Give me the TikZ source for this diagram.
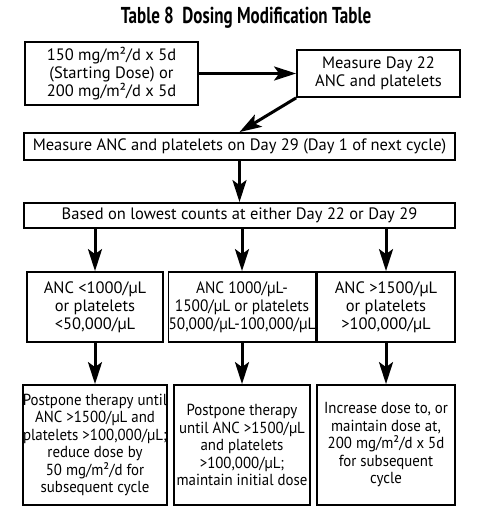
\documentclass[tikz,border=0pt]{standalone}
\usepackage{fontspec}
\setmainfont{PT Sans}
\newfontfamily\titlefont[FakeStretch=0.74]{PT Sans}
\newfontfamily\narrowfont[FakeStretch=0.93]{PT Sans}
\usetikzlibrary{arrows.meta}
\begin{document}
\begin{tikzpicture}[x=1pt,y=-1pt,
  box/.style={draw,line width=1.8pt,inner sep=0pt,align=center,
    font=\fontsize{16.5}{18}\selectfont},
  lowbox/.style={box,minimum height=120pt,font=\narrowfont\fontsize{16}{17.5}\selectfont},
  arr/.style={line width=3pt,-{Stealth[length=22pt,width=14pt,inset=5pt]}}]
\useasboundingbox (0,0) rectangle (480,513);
\node[font=\titlefont\bfseries\fontsize{23}{24}\selectfont] (title) at (246,18) {Table 8\ \ Dosing Modification Table};
\node[box,minimum width=173pt,minimum height=63pt] (b1) at (111.5,73.5)
  {150 mg/m²/d x 5d\\(Starting Dose) or\\200 mg/m²/d x 5d};
\node[box,minimum width=163pt,minimum height=47pt] (b2) at (378.5,73.5)
  {Measure Day 22\\ANC and platelets};
\node[box,minimum width=431pt,minimum height=27pt] (b3) at (239.5,146.5)
  {Measure ANC and platelets on Day 29 (Day 1 of next cycle)};
\node[box,minimum width=431pt,minimum height=25pt] (b4) at (239.5,215.5)
  {Based on lowest counts at either Day 22 or Day 29};
\node[box,minimum width=136pt,minimum height=70pt] (b5) at (95,307)
  {ANC <1000/µL\\or platelets\\<50,000/µL};
\node[box,minimum width=136pt,minimum height=70pt,font=\narrowfont\fontsize{16.5}{18}\selectfont] (b6) at (242,307)
  {ANC 1000/µL-\\1500/µL or platelets\\50,000/µL-100,000/µL};
\node[box,minimum width=138pt,minimum height=70pt] (b7) at (386,307)
  {ANC >1500/µL\\or platelets\\>100,000/µL};
\node[lowbox,minimum width=136pt] (b8) at (95,445)
  {Postpone therapy until\\ANC >1500/µL and\\platelets >100,000/µL;\\reduce dose by\\50 mg/m²/d for\\subsequent cycle};
\node[lowbox,minimum width=136pt] (b9) at (242,445)
  {Postpone therapy\\until ANC >1500/µL\\and platelets\\>100,000/µL;\\maintain initial dose};
\node[lowbox,minimum width=138pt] (b10) at (386,445)
  {Increase dose to, or\\maintain dose at,\\200 mg/m²/d x 5d\\for subsequent\\cycle};
\draw[arr] (b1.east) -- (b2.west);
\draw[arr] (b2.south west) -- (b3.north);
\draw[arr] (b3.south -| b4.north) -- (b4.north);
\draw[arr] (b4.south -| b5.north) -- (b5.north);
\draw[arr] (b4.south -| b6.north) -- (b6.north);
\draw[arr] (b4.south -| b7.north) -- (b7.north);
\draw[arr] (b5.south) -- (b8.north);
\draw[arr] (b6.south) -- (b9.north);
\draw[arr] (b7.south) -- (b10.north);
\end{tikzpicture}
\end{document}
